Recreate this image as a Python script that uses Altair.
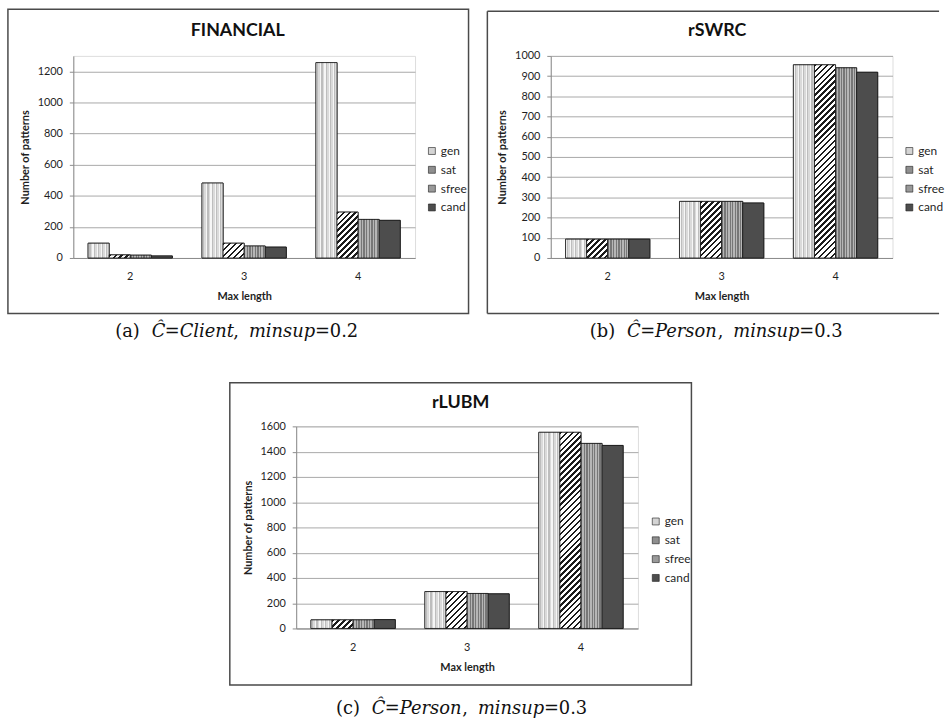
import math
import altair as alt

# ---------------- data ----------------
max_length = ["2", "3", "4"]
series = ["gen", "sat", "sfree", "cand"]

financial_gen = [95, 482, 1257]
financial_sat = [20, 95, 295]
financial_sfree = [18, 77, 248]
financial_cand = [13, 70, 242]

rswrc_gen = [93, 280, 956]
rswrc_sat = [93, 280, 956]
rswrc_sfree = [93, 280, 941]
rswrc_cand = [93, 272, 919]

rlubm_gen = [68, 292, 1553]
rlubm_sat = [68, 292, 1553]
rlubm_sfree = [68, 277, 1465]
rlubm_cand = [70, 274, 1449]

# ---------------- styling ----------------
PLOT_W, PLOT_H = 345, 204
PAD_INNER = 0.26
SANS = "Lato"
SERIF = "DejaVu Serif"
CAP_SIZE = 18
TEXT = "#1f1f1f"
AXIS_GREY = "#8c8c8c"
GRID_GREY = "#a8a8a8"
FRAME = "#4a4a4a"
FLAT = ["#d4d4d4", "#8f8f8f", "#999999", "#4d4d4d"]

# approximate advance widths (em) of DejaVu Serif, used to set caption pieces side by side
ADV = {"(": 0.390, ")": 0.390, "a": 0.596, "b": 0.640, "c": 0.560, "=": 0.838,
       "0": 0.636, ".": 0.318, "2": 0.636, "3": 0.636, ",": 0.318, " ": 0.318,
       "Ĉ": 0.734, "C": 0.734, "P": 0.683, "l": 0.320, "i": 0.320, "e": 0.592,
       "n": 0.640, "t": 0.402, "m": 0.948, "s": 0.513, "u": 0.640, "p": 0.640,
       "r": 0.478, "o": 0.602}


def stripes(colors, fracs, periods):
    """Vertical stripes as a hard-stop horizontal gradient."""
    stops = []
    for i in range(periods):
        acc = i / periods
        for c, f in zip(colors, fracs):
            end = acc + f / periods
            stops.append({"offset": round(acc, 5), "color": c})
            stops.append({"offset": round(end, 5), "color": c})
            acc = end
    return {"gradient": "linear", "x1": 0, "y1": 0, "x2": 1, "y2": 0, "stops": stops}


def hatch(w, h, period=6.0, ink=0.42):
    """45-degree '/' hatching for a w x h bar (gradient in bounding-box units)."""
    w = max(w, 0.5)
    h = max(h, 0.5)
    n = max(1, math.ceil((w + h) / period))
    k = n * period / (w * w + h * h)
    stops = []
    for i in range(n):
        a, b, c = i / n, (i + ink) / n, (i + 1) / n
        stops += [
            {"offset": round(a, 6), "color": "#1c1c1c"},
            {"offset": round(b, 6), "color": "#1c1c1c"},
            {"offset": round(b, 6), "color": "#ffffff"},
            {"offset": round(c, 6), "color": "#ffffff"},
        ]
    return {"gradient": "linear", "x1": 0, "y1": 0, "x2": k * w, "y2": k * h, "stops": stops}


def pattern(s, w, h):
    if s == "gen":
        return stripes(["#f6f6f6", "#bdbdbd", "#dadada"], [0.28, 0.3, 0.42], 5)
    if s == "sat":
        return hatch(w, h)
    if s == "sfree":
        return stripes(["#777777", "#b6b6b6"], [0.5, 0.5], 8)
    return "#4d4d4d"


one = alt.Data(values=[{"k": 0}])


def text_at(txt, x, y, **kw):
    return alt.Chart(one).mark_text(text=txt, **kw).encode(x=alt.value(x), y=alt.value(y))


def caption_layers(parts, center_x, baseline_y):
    """parts: list of (text, italic) pieces or a number for an extra gap in px."""
    widths = []
    for p in parts:
        if isinstance(p, (int, float)):
            widths.append(p)
        else:
            widths.append(sum(ADV.get(ch, 0.6) for ch in p[0]) * CAP_SIZE)
    x = center_x - sum(widths) / 2
    out = []
    for p, w in zip(parts, widths):
        if not isinstance(p, (int, float)):
            out.append(text_at(p[0], x, baseline_y, font=SERIF, fontSize=CAP_SIZE,
                               fontStyle="italic" if p[1] else "normal",
                               align="left", baseline="alphabetic", color="#111111"))
        x += w
    return out


def frame_layers(ml, mr, mt, mb, open_right=False):
    x0, x1, y0, y1 = -ml, PLOT_W + mr, -mt, PLOT_H + mb
    if not open_right:
        return [alt.Chart(one).mark_rect(fillOpacity=0, stroke=FRAME, strokeWidth=1.5).encode(
            x=alt.value(x0), x2=alt.value(x1), y=alt.value(y0), y2=alt.value(y1))]
    rule = alt.Chart(one).mark_rule(color=FRAME, strokeWidth=1.5)
    return [
        rule.encode(x=alt.value(x0), x2=alt.value(x1), y=alt.value(y0)),
        rule.encode(x=alt.value(x0), x2=alt.value(x1), y=alt.value(y1)),
        rule.encode(x=alt.value(x0), y=alt.value(y0), y2=alt.value(y1)),
    ]


def panel(title, values, ymax, ystep, lay):
    step = PLOT_W / len(max_length)
    bar_w = step * (1 - PAD_INNER) / len(series)
    rows = []
    for s in series:
        for cat, v in zip(max_length, values[s]):
            rows.append({"len": cat, "series": s, "n": v,
                         "pattern": pattern(s, bar_w, v / ymax * PLOT_H)})
    data = alt.Data(values=rows)

    base = alt.Chart(data).encode(
        x=alt.X(
            "len:N", sort=max_length, title="Max length",
            scale=alt.Scale(paddingInner=PAD_INNER, paddingOuter=PAD_INNER / 2),
            axis=alt.Axis(labelAngle=0, ticks=False, grid=False, domainColor=AXIS_GREY,
                          labelFont=SANS, labelFontSize=11, labelColor=TEXT, labelPadding=13,
                          titleFont=SANS, titleFontSize=11, titleFontWeight="bold",
                          titleColor=TEXT, titlePadding=9),
        ),
        xOffset=alt.XOffset("series:N", sort=series,
                            scale=alt.Scale(paddingInner=0, paddingOuter=0)),
        y=alt.Y(
            "n:Q", stack=None, title="Number of patterns",
            scale=alt.Scale(domain=[0, ymax], nice=False),
            axis=alt.Axis(values=list(range(0, ymax + 1, ystep)), format="d", grid=True,
                          gridColor=GRID_GREY, gridWidth=1, domainColor=AXIS_GREY,
                          tickColor=AXIS_GREY, tickSize=4, labelFont=SANS, labelFontSize=11,
                          labelColor=TEXT, labelPadding=7, titleFont=SANS, titleFontSize=11,
                          titleFontWeight="bold", titleColor=TEXT, titlePadding=7),
        ),
    )

    flat = base.mark_bar(stroke="#1a1a1a", strokeWidth=0.8).encode(
        fill=alt.Fill(
            "series:N",
            scale=alt.Scale(domain=series, range=FLAT),
            legend=alt.Legend(title=None, orient="none", legendX=lay["legend"][0],
                              legendY=lay["legend"][1], symbolType="square", symbolSize=49,
                              symbolStrokeColor="#1a1a1a", symbolStrokeWidth=0.6,
                              labelFont=SANS, labelFontSize=12, labelColor=TEXT,
                              labelOffset=3, rowPadding=7, padding=0),
        )
    )
    textured = base.mark_bar(stroke="#1a1a1a", strokeWidth=0.8).encode(
        fill=alt.Fill("pattern:N", scale=None)
    )

    frame = frame_layers(*lay["frame"], open_right=lay.get("open_right", False))

    heading = text_at(title, lay["title"][0], lay["title"][1], font=SANS, fontSize=18,
                      fontWeight="bold", align="center", baseline="middle", color="#111111")

    caption = caption_layers(lay["caption"], *lay["caption_at"])

    layers = frame + [flat, textured, heading] + caption
    return alt.layer(*layers).properties(width=PLOT_W, height=PLOT_H)


pa = panel(
    "FINANCIAL",
    {"gen": financial_gen, "sat": financial_sat, "sfree": financial_sfree, "cand": financial_cand},
    1300, 200,
    {
        "frame": (66, 54, 47, 56),
        "title": (166, -25),
        "legend": (356, 90),
        "caption_at": (165, 284),
        "caption": [("(a)", False), 12, ("Ĉ", True), ("=", False), ("Client", True),
                    (",", False), 10, ("minsup", True), ("=0.2", False)],
    },
)

pb = panel(
    "rSWRC",
    {"gen": rswrc_gen, "sat": rswrc_sat, "sfree": rswrc_sfree, "cand": rswrc_cand},
    1000, 100,
    {
        "frame": (64, 47, 45, 56),
        "open_right": True,
        "title": (168, -25),
        "legend": (356, 90),
        "caption_at": (167, 284),
        "caption": [("(b)", False), 12, ("Ĉ", True), ("=", False), ("Person", True),
                    (",", False), 10, ("minsup", True), ("=0.3", False)],
    },
)

pc = panel(
    "rLUBM",
    {"gen": rlubm_gen, "sat": rlubm_sat, "sfree": rlubm_sfree, "cand": rlubm_cand},
    1600, 200,
    {
        "frame": (67, 54, 44, 57),
        "title": (166, -24),
        "legend": (357, 90),
        "caption_at": (167, 290),
        "caption": [("(c)", False), 12, ("Ĉ", True), ("=", False), ("Person", True),
                    (",", False), 10, ("minsup", True), ("=0.3", False)],
    },
)

# an empty, invisible cell that pushes the third panel towards the middle
indent = (
    alt.Chart(one)
    .mark_point(opacity=0, size=1)
    .encode(x=alt.value(0), y=alt.value(0))
    .properties(width=156, height=1,
                view=alt.ViewBackground(strokeOpacity=0, strokeWidth=0, fillOpacity=0))
)

top = alt.hconcat(pa, pb, spacing=15).resolve_scale(fill="independent").resolve_legend(fill="independent")
bottom = alt.hconcat(indent, pc, spacing=0).resolve_scale(fill="independent").resolve_legend(fill="independent")

chart = (
    alt.vconcat(top, bottom, spacing=39)
    .resolve_scale(fill="independent")
    .resolve_legend(fill="independent")
    .properties(padding={"left": 6, "top": 4, "right": 0, "bottom": 0})
    .configure_view(stroke=None)
    .configure(font=SANS)
)

chart.save("out.html", embed_options={"renderer": "svg", "actions": False})
